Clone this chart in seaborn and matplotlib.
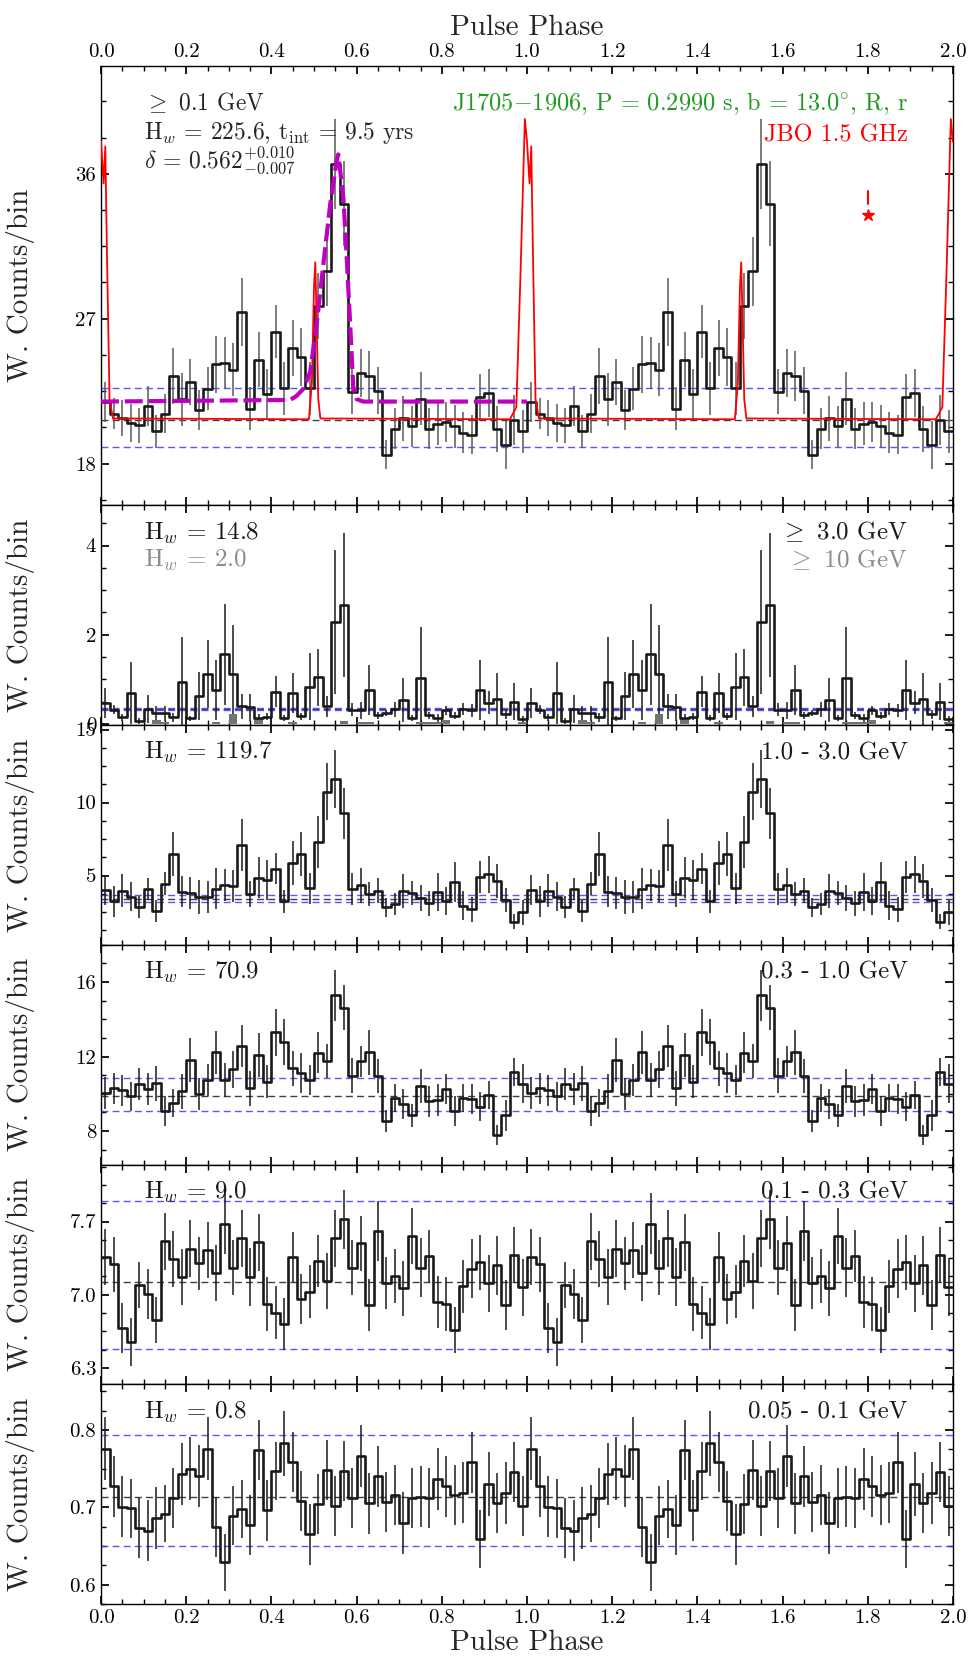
import numpy as np
import pandas as pd
import seaborn as sns
import matplotlib
matplotlib.use("Agg")
import matplotlib.pyplot as plt
from matplotlib.ticker import MultipleLocator, FormatStrFormatter

# light curves, 50 bins per rotation, shown twice
nbins = 50

cnt_all = [21.85, 21.09, 20.82, 20.52, 20.37, 21.55, 20.0, 21.09, 23.42, 21.98,
           23.05, 21.30, 22.64, 24.16, 24.23, 23.83, 27.42, 21.40, 24.45, 22.33,
           26.18, 22.68, 25.19, 24.64, 22.68, 27.79, 29.94, 36.61, 34.14, 22.47,
           23.63, 23.46, 22.53, 18.56, 20.16, 20.82, 20.31, 22.02, 20.16, 20.47,
           20.58, 20.31, 19.92, 19.79, 22.16, 22.37, 20.16, 19.13, 20.68, 20.0]
err_all = [1.24, 0.97, 1.1, 1.2, 1.1, 1.24, 1.03, 1.2, 1.75, 1.65,
           1.44, 1.24, 1.34, 1.75, 1.6, 1.65, 2.1, 1.34, 1.7, 1.55,
           1.65, 1.65, 1.75, 1.8, 1.65, 2.06, 2.16, 2.78, 2.64, 1.4,
           1.5, 1.55, 1.44, 0.93, 1.28, 1.4, 1.28, 1.65, 1.28, 1.34,
           1.24, 1.34, 1.28, 1.2, 1.4, 1.5, 1.44, 1.5, 1.55, 1.34]

cnt_3gev = [0.47, 0.32, 0.15, 0.69, 0.06, 0.33, 0.24, 0.24, 0.15, 0.94,
            0.12, 0.62, 1.11, 0.76, 1.56, 1.11, 0.39, 0.37, 0.13, 0.16,
            0.72, 0.13, 0.70, 0.17, 0.83, 1.04, 0.39, 2.29, 2.67, 0.32,
            0.30, 0.76, 0.19, 0.24, 0.33, 0.54, 0.13, 1.02, 0.19, 0.13,
            0.30, 0.18, 0.33, 0.30, 0.76, 0.47, 0.56, 0.21, 0.50, 0.11]
err_3gev = [0.33, 0.1, 0.08, 0.7, 0.06, 0.31, 0.17, 0.17, 0.1, 1.0,
            0.05, 0.54, 0.76, 0.67, 1.13, 1.1, 0.28, 0.3, 0.1, 0.08,
            0.35, 0.07, 0.45, 0.08, 0.75, 0.63, 0.24, 1.62, 1.61, 0.15,
            0.2, 0.57, 0.08, 0.07, 0.17, 0.49, 0.07, 1.15, 0.08, 0.08,
            0.1, 0.08, 0.13, 0.15, 0.67, 0.26, 0.59, 0.1, 0.41, 0.06]
cnt_10gev = [0, 0, 0, 0, 0, 0, 0.09, 0.04, 0, 0,
             0, 0, 0, 0.04, 0, 0.22, 0, 0, 0.11, 0,
             0, 0, 0.03, 0, 0, 0, 0, 0, 0.06, 0,
             0.04, 0.04, 0, 0, 0, 0, 0, 0.03, 0.03, 0.03,
             0.09, 0, 0, 0, 0, 0, 0, 0, 0, 0.04]

cnt_1_3 = [4.02, 3.24, 3.95, 3.56, 2.83, 4.09, 2.58, 4.45, 6.48, 3.90,
           3.81, 3.54, 3.54, 4.09, 4.38, 4.29, 7.10, 3.74, 4.84, 4.68,
           5.46, 3.24, 5.84, 6.48, 4.13, 7.31, 10.75, 11.60, 9.27, 4.06,
           4.32, 3.74, 3.95, 2.83, 3.06, 3.95, 3.79, 3.45, 3.11, 3.88,
           3.24, 4.57, 2.92, 2.69, 4.89, 5.07, 4.63, 3.33, 1.85, 2.47]
err_1_3 = [1.03, 1.05, 1.14, 1.0, 0.77, 0.77, 0.75, 0.8, 1.53, 1.05,
           1.07, 1.18, 1.1, 1.4, 1.1, 1.1, 1.78, 0.89, 1.4, 1.35,
           1.06, 0.8, 1.5, 1.52, 1.07, 1.8, 1.96, 1.98, 1.74, 1.08,
           1.18, 0.8, 0.86, 0.65, 0.74, 1.15, 0.82, 0.89, 0.86, 1.29,
           0.94, 1.37, 1.0, 0.86, 1.08, 1.26, 1.14, 0.8, 0.5, 0.86]

cnt_03_1 = [10.04, 10.30, 10.20, 9.86, 10.52, 10.25, 10.57, 9.07, 9.50, 10.13,
            11.80, 9.98, 10.73, 12.23, 10.73, 11.32, 12.55, 10.29, 12.07, 10.66,
            13.30, 12.77, 11.38, 11.11, 10.75, 12.20, 11.75, 15.29, 14.63, 10.96,
            11.75, 12.23, 10.96, 8.54, 9.77, 9.45, 8.84, 10.43, 9.61, 9.66,
            10.25, 9.07, 9.77, 9.73, 9.32, 9.95, 7.80, 8.84, 11.18, 10.55]
err_03_1 = [0.85, 0.82, 0.83, 0.8, 0.87, 0.87, 0.95, 0.8, 0.76, 0.96,
            1.18, 0.85, 0.85, 1.16, 0.9, 0.98, 1.13, 0.96, 1.19, 0.89,
            1.27, 1.23, 0.94, 1.06, 0.8, 1.1, 0.9, 1.37, 1.19, 0.94,
            0.83, 1.2, 0.92, 0.58, 0.76, 0.82, 0.63, 0.91, 0.83, 0.85,
            0.8, 0.82, 0.76, 0.8, 0.76, 0.76, 0.53, 0.83, 0.74, 1.04]

cnt_01_03 = [7.36, 7.29, 6.68, 6.55, 7.09, 7.01, 6.76, 7.51, 7.34, 7.17,
             7.44, 7.30, 7.43, 7.21, 7.68, 7.26, 7.54, 7.17, 7.50, 6.91,
             6.83, 6.72, 7.36, 6.96, 7.03, 7.32, 7.13, 7.54, 7.72, 7.26,
             7.49, 6.90, 7.61, 7.11, 7.18, 7.06, 7.56, 7.26, 7.37, 6.93,
             6.91, 6.66, 7.08, 7.25, 7.31, 7.11, 7.28, 6.90, 7.38, 7.07]
err_01_03 = [0.27, 0.26, 0.24, 0.23, 0.22, 0.24, 0.22, 0.27, 0.27, 0.27,
             0.27, 0.25, 0.27, 0.27, 0.29, 0.26, 0.27, 0.28, 0.27, 0.26,
             0.25, 0.25, 0.24, 0.24, 0.25, 0.25, 0.27, 0.27, 0.28, 0.26,
             0.26, 0.25, 0.29, 0.25, 0.26, 0.26, 0.27, 0.28, 0.25, 0.25,
             0.26, 0.22, 0.25, 0.28, 0.26, 0.27, 0.28, 0.24, 0.27, 0.27]

cnt_005_01 = [0.776, 0.727, 0.701, 0.699, 0.673, 0.670, 0.686, 0.692, 0.712, 0.743,
              0.750, 0.741, 0.776, 0.675, 0.629, 0.689, 0.698, 0.677, 0.774, 0.696,
              0.747, 0.783, 0.759, 0.708, 0.665, 0.704, 0.748, 0.702, 0.747, 0.712,
              0.766, 0.705, 0.740, 0.707, 0.716, 0.680, 0.712, 0.714, 0.712, 0.737,
              0.727, 0.716, 0.719, 0.758, 0.659, 0.730, 0.706, 0.719, 0.746, 0.702]
err_005_01 = [0.041, 0.039, 0.039, 0.038, 0.039, 0.039, 0.04, 0.037, 0.039, 0.04,
              0.041, 0.04, 0.041, 0.039, 0.037, 0.038, 0.038, 0.039, 0.039, 0.039,
              0.038, 0.042, 0.039, 0.039, 0.039, 0.039, 0.039, 0.039, 0.039, 0.039,
              0.04, 0.04, 0.039, 0.039, 0.039, 0.04, 0.039, 0.039, 0.039, 0.04,
              0.039, 0.039, 0.039, 0.04, 0.037, 0.041, 0.039, 0.04, 0.039, 0.039]

# background level and its band (mean, low, high)
bkg_all = [20.68, 19.03, 22.68]
bkg_3gev = [0.33, 0.31, 0.35]
bkg_1_3 = [3.42, 3.17, 3.66]
bkg_03_1 = [9.89, 9.09, 10.86]
bkg_01_03 = [7.12, 6.478, 7.894]
bkg_005_01 = [0.714, 0.650, 0.793]

# JBO 1.5 GHz radio profile, one rotation
radio_phase = [0.000, 0.006, 0.010, 0.014, 0.020, 0.028, 0.488, 0.495, 0.500, 0.503,
               0.506, 0.510, 0.515, 0.960, 0.975, 0.985, 0.995]
radio_flux = [38.0, 35.4, 37.7, 31.0, 22.0, 20.8, 20.75, 23.0, 29.0, 30.5,
              27.0, 22.0, 20.8, 20.75, 21.5, 30.0, 39.4]

# pulse template fit (first rotation only)
fit_phase = [0.0, 0.444, 0.459, 0.475, 0.491, 0.506, 0.522, 0.538, 0.553, 0.557,
             0.569, 0.577, 0.585, 0.592, 0.600, 0.616, 1.0]
fit_value = [21.85, 21.95, 22.2, 22.64, 23.7, 26.6, 30.4, 34.1, 36.8, 37.2,
             34.5, 30.7, 26.6, 22.8, 22.0, 21.85, 21.85]

sns.set_theme(style="ticks")
plt.rcParams.update({
    "font.family": ["cmr10", "DejaVu Serif"],
    "mathtext.fontset": "cm",
    "axes.formatter.use_mathtext": True,
    "axes.edgecolor": "black",
    "axes.linewidth": 1.0,
    "xtick.color": "black",
    "ytick.color": "black",
    "xtick.direction": "in",
    "ytick.direction": "in",
    "xtick.top": True,
    "ytick.right": True,
    "xtick.major.size": 6,
    "ytick.major.size": 6,
    "xtick.minor.size": 3.5,
    "ytick.minor.size": 3.5,
    "xtick.labelsize": 15,
    "ytick.labelsize": 15,
})

fig, axes = plt.subplots(6, 1, figsize=(9.77, 16.69), dpi=100,
                         gridspec_kw=dict(height_ratios=[2, 1, 1, 1, 1, 1], hspace=0,
                                          left=0.1034, right=0.9754,
                                          top=0.9605, bottom=0.0389))

edges = np.round(np.arange(2 * nbins + 1) / nbins, 4)
centers = edges[:-1] + 0.5 / nbins


def light_curve(ax, cnt, err, bkg, ecolor="k"):
    y = np.array(cnt + cnt)
    e = np.array(err + err)
    df = pd.DataFrame({"phase": edges, "counts": np.append(y, y[-1])})
    ax.vlines(centers, y - e, y + e, color=ecolor, lw=1.1, zorder=2)
    sns.lineplot(data=df, x="phase", y="counts", ax=ax, drawstyle="steps-post",
                 estimator=None, color="k", lw=1.9, zorder=3)
    ax.axhline(bkg[0], color="0.25", ls=(0, (5, 3)), lw=1.0, zorder=1)
    for lev in bkg[1:]:
        ax.axhline(lev, color="#3a3aff", ls=(0, (5, 3)), lw=1.0, alpha=0.85, zorder=1)


panels = [
    (cnt_all, err_all, bkg_all, (15.4, 42.7), 9, 2.25, "%d"),
    (cnt_3gev, err_3gev, bkg_3gev, (-0.03, 4.9), 2, 0.5, "%d"),
    (cnt_1_3, err_1_3, bkg_1_3, (0.25, 15.3), 5, 1.25, "%d"),
    (cnt_03_1, err_03_1, bkg_03_1, (6.2, 18.0), 4, 1, "%d"),
    (cnt_01_03, err_01_03, bkg_01_03, (6.144, 8.244), 0.7, 0.175, "%.1f"),
    (cnt_005_01, err_005_01, bkg_005_01, (0.575, 0.859), 0.1, 0.025, "%.1f"),
]

for i, (ax, (cnt, err, bkg, ylim, major, minor, fmt)) in enumerate(zip(axes, panels)):
    light_curve(ax, cnt, err, bkg, ecolor="0.35" if i == 0 else "0.1")
    ax.set_xlim(0, 2)
    ax.set_ylim(*ylim)
    ax.xaxis.set_major_locator(MultipleLocator(0.2))
    ax.xaxis.set_minor_locator(MultipleLocator(0.05))
    ax.xaxis.set_major_formatter(FormatStrFormatter("%.1f"))
    ax.yaxis.set_major_locator(MultipleLocator(major))
    ax.yaxis.set_minor_locator(MultipleLocator(minor))
    ax.yaxis.set_major_formatter(FormatStrFormatter(fmt))
    ax.tick_params(which="both", top=True, right=True, direction="in")
    ax.tick_params(axis="x", labelbottom=(i == 5), labeltop=(i == 0))
    ax.set_ylabel("W. Counts/bin", fontsize=21)
    ax.yaxis.set_label_coords(-0.077, 0.5)
    ax.set_xlabel("")

# top panel extras: radio profile, template, labels
ax = axes[0]
rx = radio_phase + [p + 1 for p in radio_phase] + [2.0]
ry = radio_flux + radio_flux + [radio_flux[0]]
sns.lineplot(x=rx, y=ry, ax=ax, color="#ff0000", lw=1.3, estimator=None, sort=False, zorder=4)
sns.lineplot(x=fit_phase, y=fit_value, ax=ax, color="#c000c0", lw=3, estimator=None,
             sort=False, zorder=5)
ax.lines[-1].set_linestyle((0, (4.3, 1.4)))
ax.plot([1.8, 1.8], [34.1, 34.9], color="#ff0000", lw=1.5)
ax.plot(1.8, 33.46, marker="*", color="#ff0000", ms=9, mec="#ff0000")
ax.xaxis.set_label_position("top")
ax.set_xlabel("Pulse Phase", fontsize=21, labelpad=6)
ax.text(0.05, 0.9, r"$\geq$ 0.1 GeV", transform=ax.transAxes, fontsize=17)
ax.text(0.05, 0.834, r"H$_w$ = 225.6, t$_{\rm int}$ = 9.5 yrs", transform=ax.transAxes, fontsize=17)
ax.text(0.05, 0.768, r"$\delta$ = 0.562$^{+0.010}_{-0.007}$", transform=ax.transAxes, fontsize=17)
ax.text(0.947, 0.9, r"J1705$-$1906, P = 0.2990 s, b = 13.0$^{\circ}$, R, r",
        transform=ax.transAxes, ha="right", fontsize=17.5, color="#229922")
ax.text(0.947, 0.828, "JBO 1.5 GHz", transform=ax.transAxes, ha="right", fontsize=17.5,
        color="#ff0000")

# >= 10 GeV curve in grey on the second panel
ax = axes[1]
g = np.array(cnt_10gev + cnt_10gev)
ax.fill_between(edges, 0, np.append(g, g[-1]), step="post", color="0.45", lw=0, zorder=2)

left_lab = [None, [(r"H$_w$ = 14.8", "k"), (r"H$_w$ = 2.0", "0.55")],
            [(r"H$_w$ = 119.7", "k")], [(r"H$_w$ = 70.9", "k")],
            [(r"H$_w$ = 9.0", "k")], [(r"H$_w$ = 0.8", "k")]]
right_lab = [None, [(r"$\geq$ 3.0 GeV", "k"), (r"$\geq$ 10 GeV", "0.55")],
             [("1.0 - 3.0 GeV", "k")], [("0.3 - 1.0 GeV", "k")],
             [("0.1 - 0.3 GeV", "k")], [("0.05 - 0.1 GeV", "k")]]
for ax, ll, rl in zip(axes[1:], left_lab[1:], right_lab[1:]):
    for j, (txt, c) in enumerate(ll):
        ax.text(0.05, 0.845 - 0.125 * j, txt, transform=ax.transAxes, fontsize=18, color=c)
    for j, (txt, c) in enumerate(rl):
        ax.text(0.947, 0.845 - 0.125 * j, txt, transform=ax.transAxes, fontsize=18,
                color=c, ha="right")

axes[-1].set_xlabel("Pulse Phase", fontsize=21, labelpad=2)

fig.savefig("out.png", dpi=100)
